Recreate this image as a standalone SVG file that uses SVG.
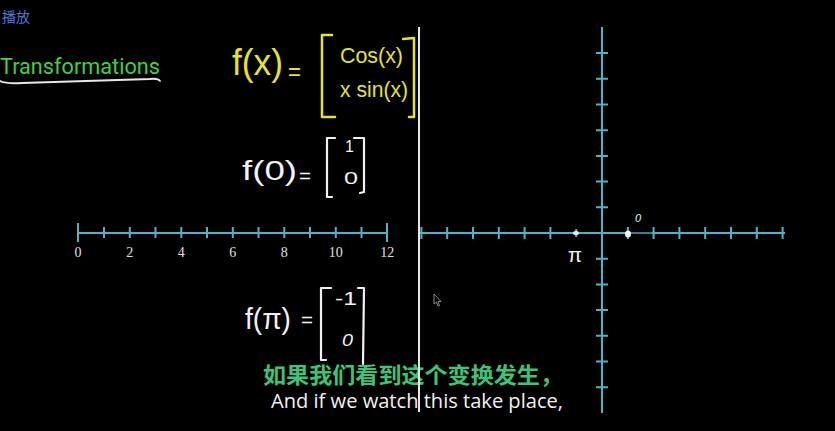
<svg xmlns="http://www.w3.org/2000/svg" width="835" height="431" viewBox="0 0 835 431">
<style>
.axis{stroke:#4fb3c8;stroke-width:2;fill:none}
.yel{fill:#e6e42a;font-family:"Liberation Sans",Arial,sans-serif}
.ybr{stroke:#e6e42a;stroke-width:2.5;fill:none;stroke-linecap:round;stroke-linejoin:round}
.wh{fill:#f2f2f2;font-family:"Liberation Sans",Arial,sans-serif}
.wbr{stroke:#f2f2f2;stroke-width:2.2;fill:none;stroke-linecap:round;stroke-linejoin:round}
.num{fill:#e0e0e0;font-family:"Liberation Serif","Times New Roman",serif;font-size:14px;text-anchor:middle}
</style>
<rect width="835" height="431" fill="#000"/>

<g id="header">
<text x="2" y="22" font-family="Noto Sans CJK SC,sans-serif" font-size="14" fill="#4f78d8">播放</text>
<text x="0" y="74" font-family="Roboto,'Liberation Sans',sans-serif" font-size="22" fill="#3fd13f" textLength="160" lengthAdjust="spacingAndGlyphs">Transformations</text>
<path d="M0,81 Q6,84 22,83 L150,79 Q158,78 160,81" stroke="#e8e8e8" stroke-width="1.8" fill="none" stroke-linecap="round"/>
</g>

<g id="fx">
<text class="yel" x="232" y="75" font-size="36" textLength="51" lengthAdjust="spacingAndGlyphs">f(x)</text>
<text class="yel" x="288" y="80" font-size="26" textLength="13" lengthAdjust="spacingAndGlyphs">=</text>
<path class="ybr" d="M332,35 L322,35 L322,117 L335,117"/>
<path class="ybr" d="M403,39 L414,38 L414,117 L409,117"/>
<text class="yel" x="340" y="63" font-size="22" textLength="63" lengthAdjust="spacingAndGlyphs">Cos(x)</text>
<text class="yel" x="340" y="97" font-size="22" textLength="68" lengthAdjust="spacingAndGlyphs">x sin(x)</text>
</g>

<g id="f0">
<text class="wh" x="242" y="180" font-size="28" textLength="55" lengthAdjust="spacingAndGlyphs">f(0)</text>
<text class="wh" x="299" y="183" font-size="20" textLength="12" lengthAdjust="spacingAndGlyphs">=</text>
<path class="wbr" d="M335,138 L327,138 L327,197 L332,197"/>
<path class="wbr" d="M354,138 L364,138 L364,192 L360,193"/>
<text class="wh" x="345" y="152" font-size="16">1</text>
<text class="wh" x="344" y="184" font-size="16" textLength="14" lengthAdjust="spacingAndGlyphs">0</text>
</g>

<g id="fpi">
<text class="wh" x="245" y="329" font-size="30" textLength="46" lengthAdjust="spacingAndGlyphs">f(π)</text>
<text class="wh" x="301" y="327" font-size="20" textLength="12" lengthAdjust="spacingAndGlyphs">=</text>
<path class="wbr" d="M331,288 L321,288 L321,360 L326,360"/>
<path class="wbr" d="M358,288 L364,288 L363,364"/>
<text class="wh" x="335" y="305" font-size="18" textLength="22" lengthAdjust="spacingAndGlyphs">-1</text>
<text class="wh" x="342" y="346" font-size="16" font-style="italic" textLength="11" lengthAdjust="spacingAndGlyphs">0</text>
</g>

<g id="numberline">
<path class="axis" d="M78,233 H387 M78,223 V242 M387,223 V242 M104,227 V238 M129.8,227 V238 M155.5,227 V238 M181.3,227 V238 M207,227 V238 M232.8,227 V238 M258.5,227 V238 M284.3,227 V238 M310,227 V238 M335.8,227 V238 M361.5,227 V238"/>
<text class="num" x="78" y="257">0</text>
<text class="num" x="129.8" y="257">2</text>
<text class="num" x="181.3" y="257">4</text>
<text class="num" x="232.8" y="257">6</text>
<text class="num" x="284.3" y="257">8</text>
<text class="num" x="335.8" y="257">10</text>
<text class="num" x="387.3" y="257">12</text>
</g>

<g id="plane">
<path class="axis" d="M420,233 H785 M602,27 V413
M421.4,227 V239 M447.2,227 V239 M473,227 V239 M498.8,227 V239 M524.6,227 V239 M550.4,227 V239 M576.2,229 V237 M627.8,227 V239 M653.6,227 V239 M679.4,227 V239 M705.2,227 V239 M731,227 V239 M756.8,227 V239 M782.6,227 V239
M596,53.1 H608 M596,78.8 H608 M596,104.5 H608 M596,130.2 H608 M596,155.9 H608 M596,181.6 H608 M596,207.3 H608 M596,258.7 H608 M596,284.4 H608 M596,310.1 H608 M596,335.8 H608 M596,361.5 H608 M596,387.2 H608"/>
<path d="M631,233 H652" stroke="#357f8e" stroke-width="2"/>
<ellipse cx="576" cy="233" rx="3" ry="2" fill="#f2f2f2"/>
<ellipse cx="628" cy="234" rx="3" ry="3.5" fill="#f2f2f2"/>
<text class="wh" x="568" y="262" font-size="20" textLength="14" lengthAdjust="spacingAndGlyphs">π</text>
<text class="wh" x="635" y="222" font-size="11" font-style="italic">0</text>
</g>

<g id="subtitles">
<text x="263" y="383" font-family="'Noto Sans CJK SC',sans-serif" font-weight="bold" font-size="22" fill="#3bc47a" textLength="300" lengthAdjust="spacingAndGlyphs">如果我们看到这个变换发生，</text>
<text x="271" y="408" font-family="'Open Sans','Noto Sans',sans-serif" font-size="20" fill="#f2f2f2" textLength="292" lengthAdjust="spacingAndGlyphs">And if we watch this take place,</text>
</g>

<path id="divider" d="M419,27 V412" stroke="#e6e6e6" stroke-width="2"/>
<path id="cursor" d="M434,294 L434,304 L436.5,302 L438,306 L439.5,305.5 L438,301.5 L441,301.5 Z" fill="#000" stroke="#aaa" stroke-width="0.8"/>
</svg>
